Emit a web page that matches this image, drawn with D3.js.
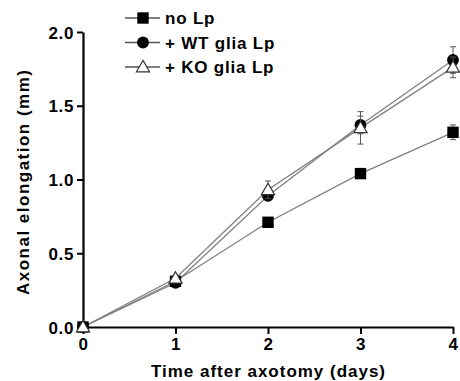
<!DOCTYPE html>
<html><head><meta charset="utf-8">
<script src="https://cdn.jsdelivr.net/npm/d3@7"></script>
<style>body{margin:0;background:#fff}svg{display:block}text{font-family:"Liberation Sans",Arial,sans-serif;font-weight:bold}</style>
</head><body>
<svg id="c" width="460" height="381"></svg>
<script>
const days = [0, 1, 2, 3, 4];
const seriesNames = ["no Lp", "+ WT glia Lp", "+ KO glia Lp"];
const noLp = [0, 0.31, 0.71, 1.04, 1.32];
const noLpErr = [0, 0.02, 0.02, 0.02, 0.05];
const wtLp = [0, 0.30, 0.89, 1.37, 1.81];
const wtLpErr = [0, 0.02, 0.02, 0.06, 0.09];
const koLp = [0, 0.33, 0.93, 1.35, 1.76];
const koLpErr = [0, 0.02, 0.06, 0.11, 0.07];
const yTicks = [0.0, 0.5, 1.0, 1.5, 2.0];
const xTicks = [0, 1, 2, 3, 4];

const svg = d3.select("#c");
const x = d3.scaleLinear().domain([0, 4]).range([83, 453]);
const y = d3.scaleLinear().domain([0, 2]).range([327, 32]);

const series = [
  {name: seriesNames[0], v: noLp, e: noLpErr, shape: "square"},
  {name: seriesNames[1], v: wtLp, e: wtLpErr, shape: "circle"},
  {name: seriesNames[2], v: koLp, e: koLpErr, shape: "triangle"}
];

// axes
const yAxis = svg.append("g").attr("transform", "translate(83,0)")
  .call(d3.axisLeft(y).tickValues(yTicks).tickFormat(d3.format(".1f")).tickSize(6).tickSizeOuter(0));
const xAxis = svg.append("g").attr("transform", "translate(0,327)")
  .call(d3.axisBottom(x).tickValues(xTicks).tickFormat(d3.format("d")).tickSize(7).tickSizeOuter(0));
[yAxis, xAxis].forEach(g => {
  g.select(".domain").attr("stroke", "#000").attr("stroke-width", 2.2);
  g.selectAll(".tick line").attr("stroke", "#000").attr("stroke-width", 2);
  g.selectAll(".tick text").attr("fill", "#000").style("font-size", "17px").style("letter-spacing", "0.6px");
});
yAxis.selectAll(".tick text").attr("x", -9).attr("dy", "0.36em");
xAxis.selectAll(".tick text").attr("y", 11);

function sym(shape) {
  if (shape === "square") return d3.symbol(d3.symbolSquare, 130)();
  if (shape === "circle") return d3.symbol(d3.symbolCircle, 110)();
  return d3.symbol(d3.symbolTriangle, 75)();
}
function styleMark(sel, shape) {
  if (shape === "triangle") sel.attr("fill", "#fff").attr("stroke", "#333").attr("stroke-width", 1.2);
  else sel.attr("fill", "#000").attr("stroke", "none");
}

const line = d3.line().x((d, i) => x(days[i])).y(d => y(d));
series.forEach(s => {
  svg.append("path").datum(s.v).attr("d", line).attr("fill", "none")
    .attr("stroke", "#808080").attr("stroke-width", 1.3);
});
series.forEach(s => {
  const g = svg.append("g");
  s.v.forEach((v, i) => {
    if (s.e[i] > 0) {
      const cx = x(days[i]);
      g.append("line").attr("x1", cx).attr("x2", cx).attr("y1", y(v - s.e[i])).attr("y2", y(v + s.e[i]))
        .attr("stroke", "#555").attr("stroke-width", 1);
      [v - s.e[i], v + s.e[i]].forEach(t => g.append("line").attr("x1", cx - 3).attr("x2", cx + 3)
        .attr("y1", y(t)).attr("y2", y(t)).attr("stroke", "#555").attr("stroke-width", 1));
    }
  });
  s.v.forEach((v, i) => {
    const p = g.append("path").attr("d", sym(s.shape))
      .attr("transform", `translate(${x(days[i])},${y(v) + (s.shape === "triangle" ? 1 : 0)})`);
    styleMark(p, s.shape);
  });
});

// legend
const leg = svg.append("g");
series.forEach((s, i) => {
  const ly = 18 + i * 24.5;
  leg.append("line").attr("x1", 125).attr("x2", 160).attr("y1", ly).attr("y2", ly)
    .attr("stroke", "#555").attr("stroke-width", 1.3);
  const p = leg.append("path").attr("d", sym(s.shape)).attr("transform", `translate(143,${ly + (s.shape === "triangle" ? 1 : 0)})`);
  styleMark(p, s.shape);
  leg.append("text").attr("x", 165).attr("y", ly).attr("dy", "0.36em").style("font-size", "17px")
    .style("letter-spacing", "0.8px").text(s.name);
});

// axis titles
svg.append("text").attr("x", 268).attr("y", 377).attr("text-anchor", "middle").style("font-size", "17px")
  .attr("textLength", 234).attr("lengthAdjust", "spacing").attr("x", 151).attr("text-anchor", "start")
  .text("Time after axotomy (days)");
svg.append("text").attr("transform", "translate(29,295) rotate(-90)").attr("text-anchor", "start")
  .attr("textLength", 225).attr("lengthAdjust", "spacing")
  .style("font-size", "17px").text("Axonal elongation (mm)");
</script>
</body></html>
